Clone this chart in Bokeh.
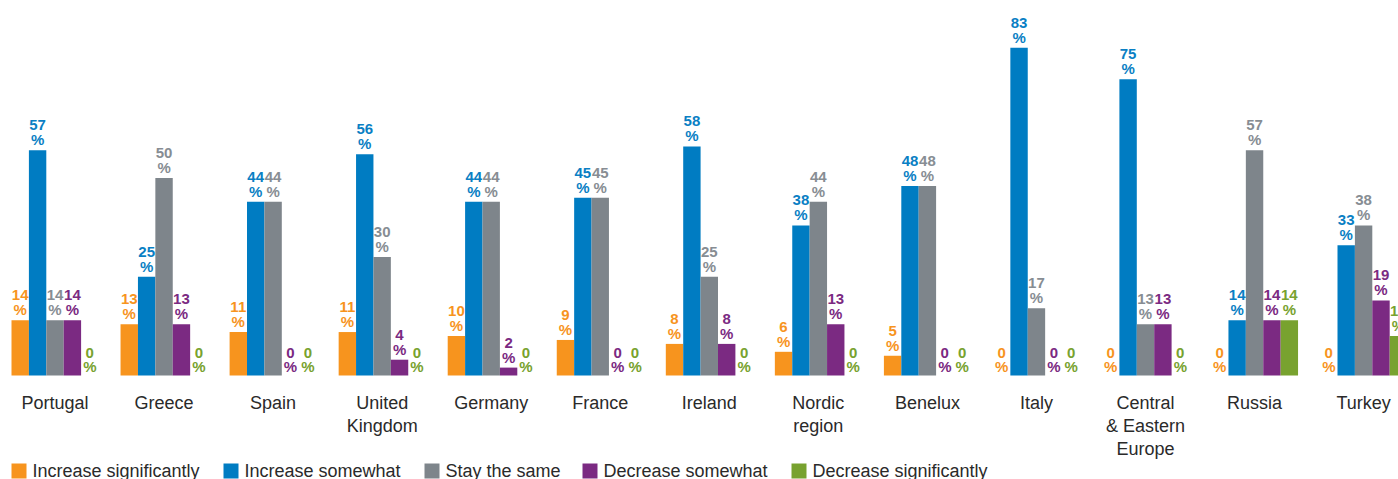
from bokeh.plotting import figure
from bokeh.models import Range1d, ColumnDataSource
from bokeh.core.properties import value
from bokeh.embed import file_html
from bokeh.resources import INLINE

categories = ["Portugal", "Greece", "Spain", "United\nKingdom", "Germany", "France",
              "Ireland", "Nordic\nregion", "Benelux", "Italy",
              "Central\n& Eastern\nEurope", "Russia", "Turkey"]
series_names = ["Increase significantly", "Increase somewhat", "Stay the same",
                "Decrease somewhat", "Decrease significantly"]
increase_significantly = [14, 13, 11, 11, 10, 9, 8, 6, 5, 0, 0, 0, 0]
increase_somewhat = [57, 25, 44, 56, 44, 45, 58, 38, 48, 83, 75, 14, 33]
stay_the_same = [14, 50, 44, 30, 44, 45, 25, 44, 48, 17, 13, 57, 38]
decrease_somewhat = [14, 13, 0, 4, 2, 0, 8, 13, 0, 0, 13, 14, 19]
decrease_significantly = [0, 0, 0, 0, 0, 0, 0, 0, 0, 0, 0, 14, 10]

series = [increase_significantly, increase_somewhat, stay_the_same,
          decrease_somewhat, decrease_significantly]
colors = ["#F7941E", "#007CC2", "#7E858B", "#7B2A82", "#78A22F"]
label_colors = ["#F7941E", "#0A7FC4", "#878D93", "#7B2A82", "#78A22F"]

# layout (pixels within the figure)
W, H = 1398, 479
PITCH = 109.05          # px per group
GROUP0 = 54.5           # x of first group centre
BASE = 375.0            # y of zero line
PXU = 3.95              # px per percentage point
BW = 17.4 / PITCH       # bar width in group units


def dx(px):
    return (px - GROUP0) / PITCH


def dy(py):
    return (BASE - py) / PXU


p = figure(width=W, height=H, output_backend="svg", toolbar_location=None,
           x_range=Range1d(dx(0), dx(W)), y_range=Range1d(dy(H), dy(0)),
           min_border=0, min_border_left=0, min_border_right=0,
           min_border_top=0, min_border_bottom=0)
p.axis.visible = False
p.grid.visible = False
p.outline_line_color = None
p.background_fill_color = "white"
p.border_fill_color = "white"

n = len(categories)
for s, vals in enumerate(series):
    xs = [i + (s - 2) * BW for i in range(n)]
    src = ColumnDataSource(dict(
        x=xs, top=vals,
        txt=[f"{v}\n%" for v in vals],
        off=[-2 if v > 0 else 0 for v in vals]))
    p.vbar(x="x", top="top", bottom=0, width=BW, source=src,
           fill_color=colors[s], line_color=None)
    p.text(x="x", y="top", text="txt", source=src, y_offset="off",
           text_align="center", text_baseline="bottom",
           text_font=value("Liberation Sans"), text_font_style="bold",
           text_font_size="15px", text_line_height=0.88,
           text_color=label_colors[s])

# category labels
p.text(x=list(range(n)), y=[dy(392)] * n, text=categories,
       text_align="center", text_baseline="top",
       text_font=value("Liberation Sans"), text_font_size="18px",
       text_line_height=1.17, text_color="#2a2a2a")

# legend
leg_x = [11, 223, 424, 582, 791]
LS = 15
p.scatter(x=[dx(x + LS / 2) for x in leg_x], y=[dy(470.5)] * 5, marker="square",
          size=LS, fill_color=colors, line_color=None)
p.text(x=[dx(x + LS + 6) for x in leg_x], y=[dy(470.5)] * 5, text=series_names,
       text_align="left", text_baseline="middle",
       text_font=value("Liberation Sans"), text_font_size="18px",
       text_color="#2a2a2a")

open("out.html", "w").write(file_html(p, INLINE))
